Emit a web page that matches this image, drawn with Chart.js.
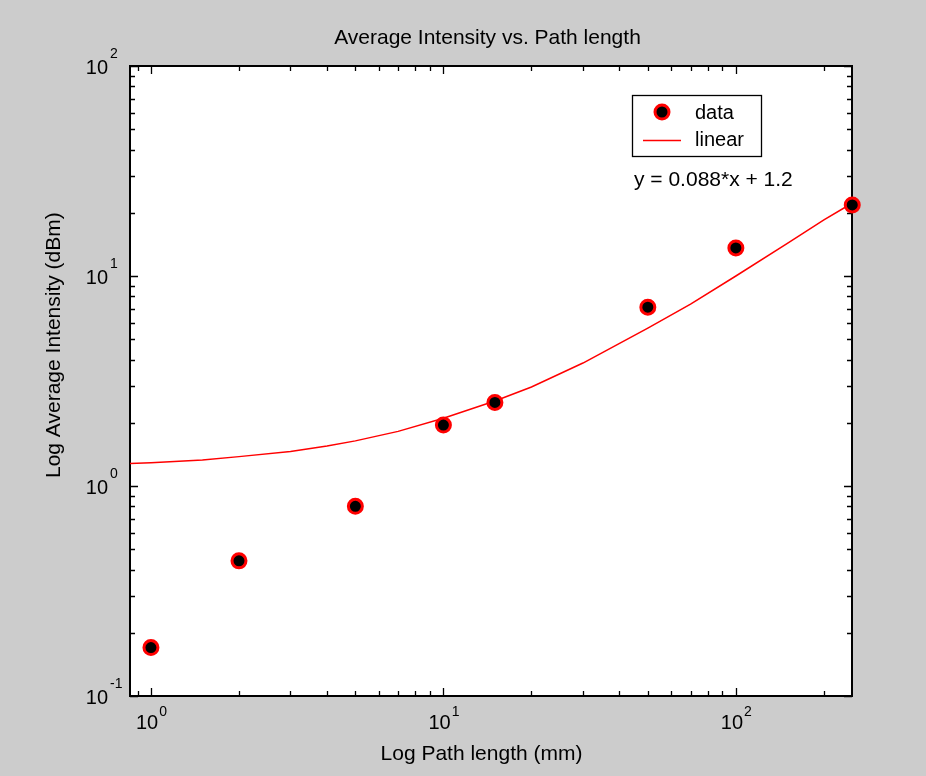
<html>
<head>
<script src="https://cdn.jsdelivr.net/npm/chart.js"></script>
<style>
  body { margin: 0; background: #cccccc; }
</style>
</head>
<body>
<canvas id="chart" width="926" height="776"></canvas>

<script>

// measured points
const pathLength = [1, 2, 5, 10, 15, 50, 100, 250];
const avgIntensity = [0.17, 0.44, 0.80, 1.95, 2.5, 7.1, 13.6, 21.8];

// fitted line
const fitX = [0.848, 1, 1.5, 2, 3, 4, 5, 7, 10, 15, 20, 30, 50, 70, 100, 150, 200, 249.5];
const fitY = [1.28, 1.29, 1.33, 1.38, 1.46, 1.55, 1.64, 1.82, 2.1, 2.54, 2.96, 3.85, 5.65, 7.35, 10.0, 14.3, 18.5, 22.2];

const xMajor = [1, 10, 100];
const xExp = ['0', '1', '2'];
const yMajor = [0.1, 1, 10, 100];
const yExp = ['-1', '0', '1', '2'];

const FONT = "'Liberation Sans', Arial, sans-serif";

const frame = {
  id: 'frame',
  beforeDraw(chart) {
    const c = chart.ctx, a = chart.chartArea;
    c.save();
    c.fillStyle = '#ffffff';
    c.fillRect(a.left, a.top, a.right - a.left, a.bottom - a.top);
    c.restore();
  },
  beforeDatasetsDraw(chart) {
    const c = chart.ctx, a = chart.chartArea;
    const xs = chart.scales.x, ys = chart.scales.y;
    c.save();
    c.strokeStyle = '#000';
    c.lineWidth = 2;
    c.strokeRect(a.left, a.top, a.right - a.left, a.bottom - a.top);
    c.lineWidth = 1.3;
    c.beginPath();
    // ticks inside on all four sides
    for (let k = -2; k <= 3; k++) {
      for (let m = 1; m <= 9; m++) {
        const v = m * Math.pow(10, k);
        const len = m === 1 ? 8 : 5;
        if (v >= xs.min && v <= xs.max) {
          const px = Math.round(xs.getPixelForValue(v)) + 0.5;
          c.moveTo(px, a.bottom); c.lineTo(px, a.bottom - len);
          c.moveTo(px, a.top); c.lineTo(px, a.top + len);
        }
        if (v >= ys.min && v <= ys.max) {
          const py = Math.round(ys.getPixelForValue(v)) + 0.5;
          c.moveTo(a.left, py); c.lineTo(a.left + len, py);
          c.moveTo(a.right, py); c.lineTo(a.right - len, py);
        }
      }
    }
    c.stroke();
    c.restore();
  },
  afterDraw(chart) {
    const c = chart.ctx;
    const xs = chart.scales.x, ys = chart.scales.y;
    c.save();
    c.fillStyle = '#000';
    c.textBaseline = 'alphabetic';

    // x tick labels
    xMajor.forEach((v, i) => {
      const px = xs.getPixelForValue(v);
      c.font = '20px ' + FONT;
      const w1 = c.measureText('10').width;
      c.font = '14px ' + FONT;
      const w2 = c.measureText(xExp[i]).width;
      const x0 = px - (w1 + w2) / 2;
      c.textAlign = 'left';
      c.font = '20px ' + FONT;
      c.fillText('10', x0, 729);
      c.font = '14px ' + FONT;
      c.fillText(xExp[i], x0 + w1 + 1, 716);
    });

    // y tick labels
    yMajor.forEach((v, i) => {
      const py = ys.getPixelForValue(v);
      c.font = '20px ' + FONT;
      c.textAlign = 'right';
      c.fillText('10', 108, py + 7.5);
      c.font = '14px ' + FONT;
      c.textAlign = 'left';
      c.fillText(yExp[i], 110, py - 8);
    });

    // titles
    c.font = '21px ' + FONT;
    c.textAlign = 'center';
    c.fillText('Average Intensity vs. Path length', 487.5, 44);
    c.fillText('Log Path length (mm)', 481.5, 760);
    c.save();
    c.translate(60, 478);
    c.rotate(-Math.PI / 2);
    c.textAlign = 'left';
    c.fillText('Log Average Intensity (dBm)', 0, 0);
    c.restore();

    // legend
    c.fillStyle = '#fff';
    c.fillRect(632, 95, 130, 62);
    c.strokeStyle = '#000';
    c.lineWidth = 1.3;
    c.strokeRect(632.5, 95.5, 129, 61);
    c.beginPath();
    c.arc(662, 112, 7, 0, Math.PI * 2);
    c.fillStyle = '#000';
    c.fill();
    c.lineWidth = 3;
    c.strokeStyle = '#ff0000';
    c.stroke();
    c.beginPath();
    c.lineWidth = 1.5;
    c.moveTo(643, 140.5); c.lineTo(681, 140.5);
    c.stroke();
    c.fillStyle = '#000';
    c.font = '20px ' + FONT;
    c.textAlign = 'left';
    c.fillText('data', 695, 119);
    c.fillText('linear', 695, 146);

    // fit equation
    c.font = '21px ' + FONT;
    c.fillText('y = 0.088*x + 1.2', 634, 186);
    c.restore();
  }
};

const ctx = document.getElementById('chart');

new Chart(ctx, {
  type: 'scatter',
  data: {
    datasets: [
      {
        label: 'data',
        data: pathLength.map((x, i) => ({ x: x, y: avgIntensity[i] })),
        backgroundColor: '#000000',
        borderColor: '#ff0000',
        borderWidth: 3,
        pointRadius: 7,
        clip: false,
        order: 0
      },
      {
        label: 'linear',
        data: fitX.map((x, i) => ({ x: x, y: fitY[i] })),
        showLine: true,
        borderColor: '#ff0000',
        borderWidth: 1.5,
        pointRadius: 0,
        tension: 0,
        order: 1
      }
    ]
  },
  options: {
    responsive: false,
    animation: false,
    layout: { padding: { left: 0, top: 66, right: 74, bottom: 80 } },
    plugins: {
      legend: { display: false },
      tooltip: { enabled: false }
    },
    scales: {
      x: {
        type: 'logarithmic',
        min: 0.848,
        max: 249.5,
        ticks: { display: false },
        grid: { display: false },
        border: { display: false },
        afterFit(s) { s.height = 0; }
      },
      y: {
        type: 'logarithmic',
        min: 0.1,
        max: 100,
        ticks: { display: false },
        grid: { display: false },
        border: { display: false },
        afterFit(s) { s.width = 130; }
      }
    }
  },
  plugins: [frame]
});

</script>
</body>
</html>
